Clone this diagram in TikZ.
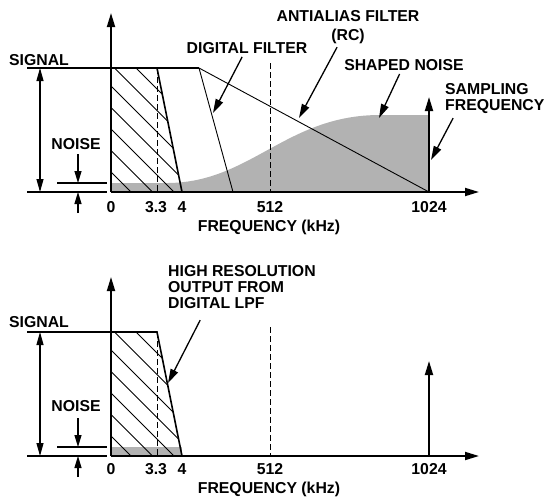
\documentclass[tikz,border=0pt]{standalone}
\usepackage{fontspec}
\setmainfont{Liberation Sans}
\usetikzlibrary{arrows.meta,positioning,calc}

\begin{document}
\begin{tikzpicture}[x=1pt,y=-1pt,
    font=\bfseries\fontsize{15.8}{16}\selectfont,
    ax/.style={line width=1.8pt,-{Triangle[length=14pt,width=8pt]}},
    ptr/.style={line width=1.3pt,-{Triangle[length=14pt,width=8pt]},shorten <=4pt},
    arr/.style={line width=1.1pt,-{Triangle[length=12pt,width=7pt]}},
    lvl/.style={line width=1.1pt},
    bold/.style={line width=1.6pt},
    fine/.style={line width=0.9pt},
    dsh/.style={line width=0.9pt,dash pattern=on 6pt off 3pt},
    lbl/.style={inner sep=0pt,anchor=base},
    noise/.style={fill=black!30}]
  \useasboundingbox (0,0) rectangle (546,498);

  % noise floors
  \fill[noise] (111,183) -- (165,183) .. controls (250,184) and (285,115) .. (380,115)
    -- (429,115) -- (429,192) -- (111,192) -- cycle;
  \fill[noise] (111,447) rectangle (182,456);

  \foreach \p/\dy/\ly in {t/0/0,b/264/262}{
    \begin{scope}[shift={(0,\dy)}]
      \begin{scope}
        \clip (111,68) -- (157,68) -- (182,192) -- (111,192) -- cycle;
        \foreach \c in {61,39.5,...,-68}
          \draw[fine] (100,100+\c) -- (240,240+\c);
      \end{scope}
      \draw[bold] (111,68) -- (157,68) -- (182,192);
      \draw[dsh] (157,68) -- (157,192);
      \draw[dsh] (270,63) -- (270,192);
      \draw[lvl] (27,68) -- (111,68);
      \draw[lvl] (27,192) -- (107,192);
      \draw[lvl] (57,183) -- (107,183);
      \draw[lvl,{Triangle[length=13pt,width=7pt]}-{Triangle[length=13pt,width=7pt]}]
        (40,68) -- (40,192);
      \draw[arr] (78,154) -- (78,183);
      \draw[arr] (78,213) -- (78,192);
      \coordinate (o\p) at (111,192);
      \draw[ax] (o\p) -- (111,13);
      \draw[ax] (o\p) -- (479,192);
      \draw[ax] (429,192) -- (429,97);
    \end{scope}
    \begin{scope}[shift={(0,\ly)}]
      \node[lbl] (sig\p) at (39,65) {SIGNAL};
      \node[lbl] (noi\p) at (76,149) {NOISE};
      \node[lbl] (f0\p) at (111,212) {0};
      \node[lbl] (f33\p) at (156,212) {3.3};
      \node[lbl] (f4\p) at (182,212) {4};
      \node[lbl] (f512\p) at (270,212) {512};
      \node[lbl] (f1024\p) at (429,212) {1024};
      \node[lbl] (fq\p) at (269,231) {FREQUENCY (kHz)};
    \end{scope}}

  % filter skirts, top panel
  \draw[bold] (157,68) -- (199,68);
  \draw[fine] (199,68) -- (233,192);
  \draw[fine] (199,68) -- (429,192);

  \node[lbl] (df) at (247,53) {DIGITAL FILTER};
  \node[inner sep=0pt,anchor=north,align=center] (aa) at (348,10)
    {ANTIALIAS FILTER\\[3pt](RC)};
  \node[lbl] (sn) at (404,70) {SHAPED NOISE};
  \node[inner sep=0pt,anchor=north west,align=left] (fs) at (445,83)
    {SAMPLING\\FREQUENCY};
  \node[inner sep=0pt,anchor=north west,align=left] (hr) at (168,265)
    {HIGH RESOLUTION\\OUTPUT FROM\\DIGITAL LPF};

  \coordinate (dfp) at (213,113);
  \coordinate (aap) at (299,118);
  \coordinate (snp) at (379,118);
  \coordinate (fsp) at (431,160);
  \coordinate (hrp) at (168,383);
  \draw[ptr] (df) -- (dfp);
  \draw[ptr] (aa) -- (aap);
  \draw[ptr] (sn) -- (snp);
  \draw[ptr] ($(fs.south west)+(10,1)$) -- (fsp);
  \draw[ptr] ($(hr.south west)+(34,8)$) -- (hrp);
\end{tikzpicture}
\end{document}
